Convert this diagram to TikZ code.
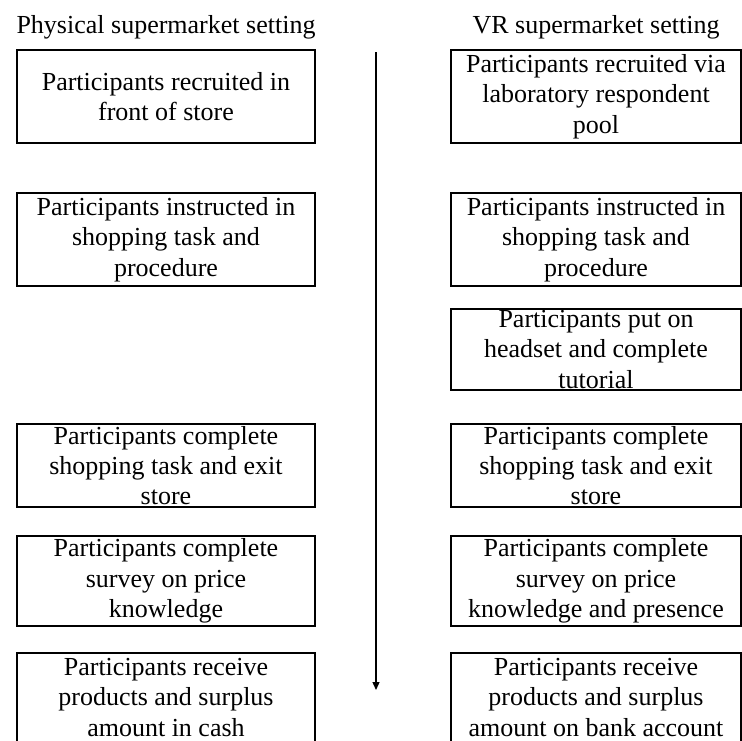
\documentclass[tikz,border=0pt]{standalone}
\usepackage{fontspec}
\setmainfont{Liberation Serif}
\usepackage{tikz}
\usetikzlibrary{arrows.meta}

\begin{document}
\begin{tikzpicture}[x=1pt,y=-1pt,line width=1.3pt,
	every node/.style={font=\fontsize{26}{30.3}\selectfont},
	phys/.style={draw,align=flush center,text width=298pt,inner sep=0pt,minimum height=93pt},
	vr/.style={phys,text width=290pt}]
				\clip (0,0) rectangle (742,740);
				\node[anchor=base] (physhead) at (166,33) {Physical supermarket setting};
				\node[anchor=base] (vrhead) at (596,33) {VR supermarket setting};
				% physical store
				\node[phys] (precruit) at (166,96.5) {Participants recruited in\\front of store};
				\node[phys] (pinstruct) at (166,239.5) {Participants instructed in\\shopping task and\\procedure};
				\node[phys,minimum height=83pt] (pshop) at (166,465.5) {Participants complete\\shopping task and exit\\store};
				\node[phys,minimum height=90pt] (psurvey) at (166,581) {Participants complete\\survey on price\\knowledge};
				\node[phys,minimum height=89pt] (preceive) at (166,697.5) {Participants receive\\products and surplus\\amount in cash};
				% vr store
				\node[vr] (vrecruit) at (596,96.5) {Participants recruited via\\laboratory respondent\\pool};
				\node[vr] (vinstruct) at (596,239.5) {Participants instructed in\\shopping task and\\procedure};
				\node[vr,minimum height=81pt] (vheadset) at (596,349.5) {Participants put on\\headset and complete\\tutorial};
				\node[vr,minimum height=83pt] (vshop) at (596,465.5) {Participants complete\\shopping task and exit\\store};
				\node[vr,minimum height=90pt] (vsurvey) at (596,581) {Participants complete\\survey on price\\knowledge and presence};
				\node[vr,minimum height=89pt] (vreceive) at (596,697.5) {Participants receive\\products and surplus\\amount on bank account};
				% time arrow
				\coordinate (tstart) at (376,52);
				\coordinate (tend) at (376,690);
				\draw[-{Triangle[length=8pt,width=7pt]}] (tstart) -- (tend);
			\end{tikzpicture}
\end{document}
